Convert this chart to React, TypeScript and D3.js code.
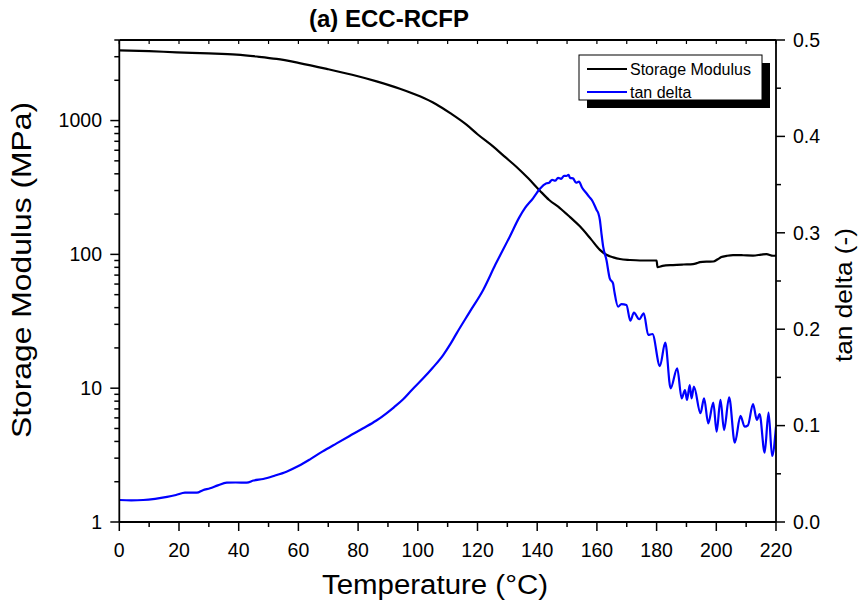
import React from "react";
import * as d3 from "d3";

// ---- data ----
const modTemps = [0, 10, 19.2, 30, 39.3, 46, 52.7, 60, 69.5, 78, 86.2, 94, 100.7, 106, 111, 116.3, 120, 125.2, 129, 133.1, 137, 140.9, 144, 147.6, 151, 154.3, 158, 161, 163.2, 165.5, 167.7, 171, 174.4, 177, 180, 180.3, 182, 185.5, 189, 192.2, 193.5, 194.5, 197, 199, 200.5, 201.7, 203.5, 205.6, 209, 212.3, 215, 216.8, 219, 220];
const modValues = [3350, 3300, 3236, 3180, 3110, 3010, 2890, 2700, 2434, 2200, 1963, 1730, 1517, 1330, 1130, 931, 790, 641, 540, 450, 370, 299, 255, 222, 190, 162, 130, 108, 99.3, 95, 92.3, 90.8, 90, 90, 90, 80.4, 82, 83.2, 84, 84.6, 86, 87.5, 88.3, 88.5, 92, 95.5, 97.5, 98.8, 98.5, 98, 99.5, 100.5, 97.7, 98];

const tanTemps = [0, 4, 8, 12, 16, 19, 22, 24, 26, 28, 30.4, 33, 36, 39, 42.7, 45, 48.2, 52, 56, 60, 63.9, 68, 72.8, 77, 81.7, 86, 89.5, 92, 95.1, 98, 101.8, 105, 108.5, 111, 113, 117.4, 121.9, 126, 130.8, 134, 136, 138.6, 140, 141, 143.1, 144, 145, 146, 147, 148, 149, 149.8, 150.5, 151, 152, 153, 154, 155, 156.5, 157.5, 158.5, 159.9, 160.5, 161, 161.5, 162.1, 163.2, 164.3, 165.4, 165.8, 167.1, 168.2, 169.9, 171.2, 172.4, 174.2, 175.7, 177.2, 178.6, 181.1, 182.9, 184.7, 186.9, 188.4, 189.5, 190.2, 191.1, 191.7, 192.5, 194.7, 195.9, 197.3, 199, 200.1, 201.4, 202.6, 204.3, 206.2, 208.1, 209.5, 210.6, 212.3, 213.6, 214.5, 216.2, 217.5, 218.7, 220];
const tanValues = [0.0228, 0.0225, 0.0228, 0.024, 0.026, 0.028, 0.0304, 0.0305, 0.0304, 0.033, 0.035, 0.038, 0.0408, 0.041, 0.0408, 0.043, 0.0446, 0.048, 0.0522, 0.058, 0.065, 0.073, 0.0816, 0.089, 0.0972, 0.105, 0.1128, 0.119, 0.1273, 0.137, 0.149, 0.16, 0.1732, 0.185, 0.1957, 0.218, 0.2407, 0.267, 0.296, 0.316, 0.326, 0.3358, 0.342, 0.346, 0.3513, 0.352, 0.355, 0.354, 0.357, 0.356, 0.359, 0.3589, 0.36, 0.357, 0.3565, 0.352, 0.353, 0.347, 0.341, 0.337, 0.333, 0.3237, 0.32, 0.3133, 0.3, 0.2856, 0.2718, 0.2528, 0.2476, 0.24, 0.2233, 0.2261, 0.225, 0.2088, 0.2171, 0.2103, 0.2165, 0.194, 0.195, 0.1618, 0.186, 0.1387, 0.1594, 0.1283, 0.1369, 0.1266, 0.1421, 0.1283, 0.1404, 0.1128, 0.1283, 0.1024, 0.1238, 0.0937, 0.1266, 0.0954, 0.1294, 0.0823, 0.11, 0.0989, 0.1003, 0.1224, 0.1058, 0.112, 0.0719, 0.1134, 0.0685, 0.0989];

const xTicks = [0, 20, 40, 60, 80, 100, 120, 140, 160, 180, 200, 220];
const leftTicks = [1, 10, 100, 1000];
const rightTicks = [0, 0.1, 0.2, 0.3, 0.4, 0.5];

const title = "(a) ECC-RCFP";
const xTitle = "Temperature (°C)";
const yLeftTitle = "Storage Modulus (MPa)";
const yRightTitle = "tan delta (-)";
const seriesNames = ["Storage Modulus", "tan delta"];
const seriesColors = ["#000000", "#0000ff"];

const FONT = "'Liberation Sans', Arial, Helvetica, sans-serif";

export default function App() {
  const W = 860, H = 612;
  const left = 119.3, right = 776, top = 40, bottom = 522;

  const x = d3.scaleLinear().domain([0, 220]).range([left, right]);
  const yL = d3.scaleLog().domain([1, 4000]).range([bottom, top]);
  const yR = d3.scaleLinear().domain([0, 0.5]).range([bottom, top]);

  const modData = modTemps.map((t, i) => [t, modValues[i]] as [number, number]);
  const tanData = tanTemps.map((t, i) => [t, tanValues[i]] as [number, number]);

  const modLine = d3.line<[number, number]>().x(d => x(d[0])).y(d => yL(d[1])).curve(d3.curveMonotoneX);
  const tanLine = d3.line<[number, number]>().x(d => x(d[0])).y(d => yR(d[1])).curve(d3.curveMonotoneX);

  const xMinor = d3.range(0, 221, 10).filter(v => v % 20 !== 0);
  const leftMinor: number[] = [];
  for (let e = 0; e < 4; e++) {
    for (let m = 2; m <= 9; m++) {
      const v = m * Math.pow(10, e);
      if (v <= 4000) leftMinor.push(v);
    }
  }
  const rightMinor = d3.range(0.05, 0.5, 0.1);
  const topTicks = d3.range(0, 221, 10);

  const major = 9, minor = 5;

  return (
    <svg width={W} height={H} style={{ position: "absolute", left: 0, top: 0, background: "#fff" }} fontFamily={FONT}>
      <defs>
        <clipPath id="plotclip">
          <rect x={left} y={top} width={right - left} height={bottom - top} />
        </clipPath>
      </defs>
      <rect x={0} y={0} width={W} height={H} fill="#fff" />

      {/* title */}
      <text x={389} y={27} textAnchor="middle" fontSize={24} fontWeight="bold" textLength={160} lengthAdjust="spacingAndGlyphs">{title}</text>

      {/* data */}
      <g clipPath="url(#plotclip)">
        <path d={modLine(modData) || ""} fill="none" stroke={seriesColors[0]} strokeWidth={2.2} />
        <path d={tanLine(tanData) || ""} fill="none" stroke={seriesColors[1]} strokeWidth={2.2} />
      </g>

      {/* frame */}
      <line x1={left} x2={right} y1={top} y2={top} stroke="#000" strokeWidth={1.8} />
      <line x1={left} x2={right} y1={bottom} y2={bottom} stroke="#000" strokeWidth={1.8} />
      <line x1={left} x2={left} y1={top} y2={bottom} stroke="#000" strokeWidth={1.8} />
      <line x1={right} x2={right} y1={top} y2={bottom} stroke="#000" strokeWidth={1.8} />

      {/* top ticks */}
      {topTicks.map(t => (
        <line key={"tt" + t} x1={x(t)} x2={x(t)} y1={top} y2={top + 4} stroke="#000" strokeWidth={1.2} />
      ))}

      {/* bottom axis */}
      {xTicks.map(t => (
        <g key={"xt" + t}>
          <line x1={x(t)} x2={x(t)} y1={bottom} y2={bottom + major} stroke="#000" strokeWidth={1.5} />
          <text x={x(t)} y={557} textAnchor="middle" fontSize={19.5}>{t}</text>
        </g>
      ))}
      {xMinor.map(t => (
        <line key={"xm" + t} x1={x(t)} x2={x(t)} y1={bottom} y2={bottom + minor} stroke="#000" strokeWidth={1.5} />
      ))}

      {/* left axis */}
      {leftTicks.map(t => (
        <g key={"lt" + t}>
          <line x1={left - major} x2={left} y1={yL(t)} y2={yL(t)} stroke="#000" strokeWidth={1.5} />
          <text x={102} y={yL(t)} dy="0.35em" textAnchor="end" fontSize={19.5}>{t}</text>
        </g>
      ))}
      {leftMinor.map(t => (
        <line key={"lm" + t} x1={left - minor} x2={left} y1={yL(t)} y2={yL(t)} stroke="#000" strokeWidth={1.5} />
      ))}

      {/* right axis */}
      {rightTicks.map(t => (
        <g key={"rt" + t}>
          <line x1={right} x2={right + major} y1={yR(t)} y2={yR(t)} stroke="#000" strokeWidth={1.5} />
          <text x={793} y={yR(t)} dy="0.35em" textAnchor="start" fontSize={19.5}>{t.toFixed(1)}</text>
        </g>
      ))}
      {rightMinor.map(t => (
        <line key={"rm" + t} x1={right} x2={right + minor} y1={yR(t)} y2={yR(t)} stroke="#000" strokeWidth={1.5} />
      ))}

      {/* axis titles */}
      <text x={435} y={594} textAnchor="middle" fontSize={27} textLength={226} lengthAdjust="spacingAndGlyphs">{xTitle}</text>
      <text transform={`translate(31,270) rotate(-90)`} textAnchor="middle" fontSize={27} textLength={336} lengthAdjust="spacingAndGlyphs">{yLeftTitle}</text>
      <text transform={`translate(852,295) rotate(-90)`} textAnchor="middle" fontSize={24} textLength={134} lengthAdjust="spacingAndGlyphs">{yRightTitle}</text>

      {/* legend */}
      <rect x={587} y={63} width={183} height={45} fill="#000" />
      <rect x={579} y={55} width={183} height={45} fill="#fff" stroke="#000" strokeWidth={1} />
      {seriesNames.map((n, i) => (
        <g key={n}>
          <line x1={587} x2={627} y1={69 + i * 23} y2={69 + i * 23} stroke={seriesColors[i]} strokeWidth={2.2} />
          <text x={630} y={69 + i * 23} dy="0.35em" fontSize={16}>{n}</text>
        </g>
      ))}
    </svg>
  );
}
